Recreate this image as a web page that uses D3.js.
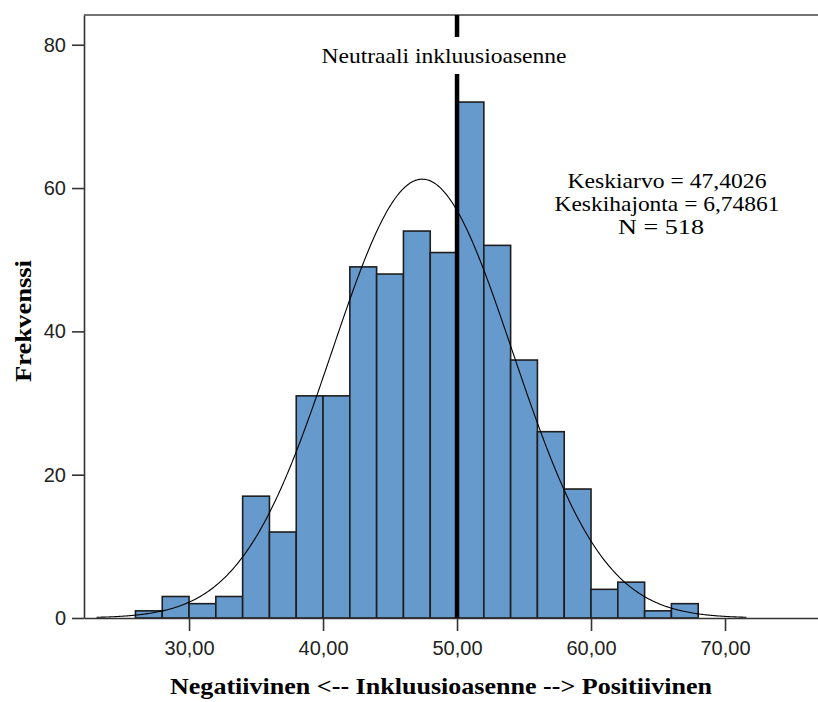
<!DOCTYPE html>
<html>
<head>
<meta charset="utf-8">
<script src="https://cdn.jsdelivr.net/npm/d3@7"></script>
<style>
  html, body { margin: 0; padding: 0; background: #fff; }
  svg { display: block; }
  .tick text { font-family: "Liberation Sans", Arial, sans-serif; font-size: 20px; fill: #222; }
  .tick line, .domain { stroke: #333; stroke-width: 1.6; }
</style>
</head>
<body>
<svg id="chart" width="818" height="702"></svg>
<script>
// histogram bins (left edges), width 2
const binStarts = [26, 28, 30, 32, 34, 36, 38, 40, 42, 44, 46, 48, 50, 52, 54, 56, 58, 60, 62, 64, 66];
const counts    = [ 1,  3,  2,  3, 17, 12, 31, 31, 49, 48, 54, 51, 72, 52, 36, 26, 18,  4,  5,  1,  2];
const BIN_W = 2;

const xTicks = [30, 40, 50, 60, 70];
const yTicks = [0, 20, 40, 60, 80];

const MEAN = 47.4026, SD = 6.74861, N = 518;
const NEUTRAL = 50;
const statLines = ['Keskiarvo = 47,4026', 'Keskihajonta = 6,74861', 'N = 518'];

const LEFT = 84, RIGHT = 818, TOP = 15, BOTTOM = 618;

const svg = d3.select('#chart');

const x = d3.scaleLinear().domain([22.16, 76.94]).range([LEFT, RIGHT]);
const y = d3.scaleLinear().domain([0, 84.15]).range([BOTTOM, TOP]);

// top frame line
svg.append('line')
    .attr('x1', LEFT).attr('x2', RIGHT)
    .attr('y1', TOP).attr('y2', TOP)
    .style('stroke', '#444').style('stroke-width', 1.6);

// bars
svg.append('g')
    .selectAll('rect')
    .data(binStarts)
    .enter()
    .append('rect')
    .attr('x', d => x(d))
    .attr('width', d => x(d + BIN_W) - x(d))
    .attr('y', (d, i) => y(counts[i]))
    .attr('height', (d, i) => y(0) - y(counts[i]))
    .attr('fill', '#6699cc')
    .attr('stroke', '#1e1e1e')
    .attr('stroke-width', 1.6);

// normal curve from the stated mean / sd / N
const pdf = v => Math.exp(-0.5 * Math.pow((v - MEAN) / SD, 2)) / (SD * Math.sqrt(2 * Math.PI));
const curveXs = d3.range(23.1, 71.65, 0.1);
svg.append('path')
    .datum(curveXs)
    .attr('d', d3.line().x(v => x(v)).y(v => y(N * BIN_W * pdf(v))))
    .attr('fill', 'none')
    .attr('stroke', '#000')
    .attr('stroke-width', 1.1);

// neutral reference line, with gap for its label
svg.append('line')
    .attr('x1', x(NEUTRAL)).attr('x2', x(NEUTRAL))
    .attr('y1', TOP).attr('y2', 37)
    .style('stroke', '#000').style('stroke-width', 4.5);
svg.append('line')
    .attr('x1', x(NEUTRAL)).attr('x2', x(NEUTRAL))
    .attr('y1', 74).attr('y2', BOTTOM)
    .style('stroke', '#000').style('stroke-width', 4.5);

svg.append('text')
    .attr('x', x(NEUTRAL) - 13).attr('y', 63)
    .attr('text-anchor', 'middle')
    .attr('textLength', 245).attr('lengthAdjust', 'spacingAndGlyphs')
    .style('font-family', '"Liberation Serif", "Times New Roman", serif')
    .style('font-size', '21px')
    .text('Neutraali inkluusioasenne');

// stats box text
const statW = [199, 225, 86];
const statX = [667, 667, 661];
svg.append('g')
    .selectAll('text')
    .data(statLines)
    .enter()
    .append('text')
    .attr('x', (d, i) => statX[i])
    .attr('y', (d, i) => 188 + i * 23)
    .attr('text-anchor', 'middle')
    .attr('textLength', (d, i) => statW[i]).attr('lengthAdjust', 'spacingAndGlyphs')
    .style('font-family', '"Liberation Serif", "Times New Roman", serif')
    .style('font-size', '21px')
    .text(d => d);

// axes
svg.append('g')
    .attr('transform', `translate(${LEFT},0)`)
    .call(d3.axisLeft(y).tickValues(yTicks).tickSize(12).tickSizeOuter(0).tickPadding(6));

svg.append('g')
    .attr('transform', `translate(0,${BOTTOM})`)
    .call(d3.axisBottom(x).tickValues(xTicks).tickSize(13).tickSizeOuter(0).tickPadding(10)
        .tickFormat(v => v.toFixed(2).replace('.', ',')));

// axis titles
svg.append('text')
    .attr('transform', 'translate(31,321) rotate(-90)')
    .attr('text-anchor', 'middle')
    .attr('textLength', 122).attr('lengthAdjust', 'spacingAndGlyphs')
    .style('font-family', '"Liberation Serif", "Times New Roman", serif')
    .style('font-size', '24px').style('font-weight', 'bold')
    .text('Frekvenssi');

svg.append('text')
    .attr('x', 441).attr('y', 694)
    .attr('text-anchor', 'middle')
    .attr('textLength', 542).attr('lengthAdjust', 'spacingAndGlyphs')
    .style('font-family', '"Liberation Serif", "Times New Roman", serif')
    .style('font-size', '24px').style('font-weight', 'bold')
    .text('Negatiivinen <-- Inkluusioasenne --> Positiivinen');
</script>
</body>
</html>
